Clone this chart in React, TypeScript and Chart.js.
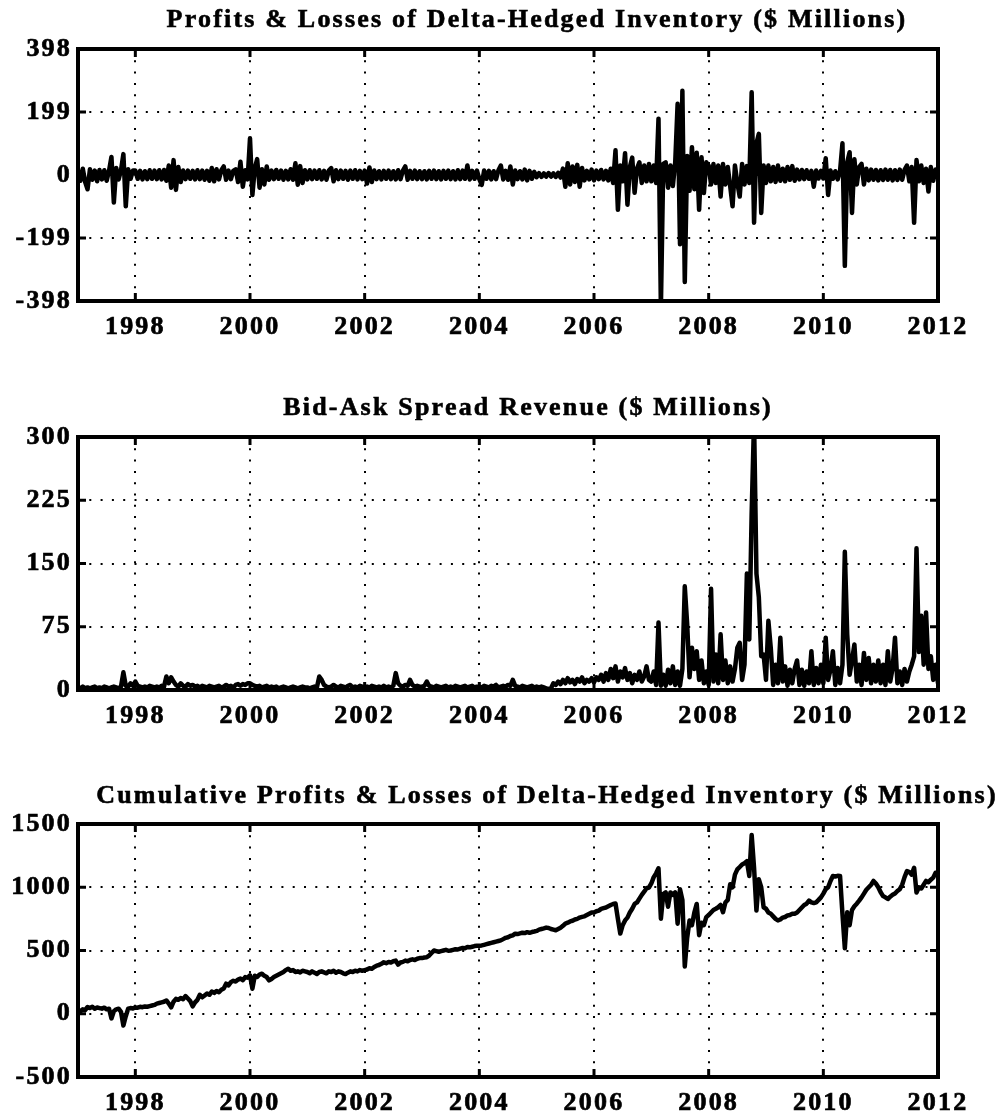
import React, { useEffect, useRef } from 'react';
import { Chart, registerables } from 'chart.js';

Chart.register(...registerables);

// ---------- data ----------
const X_START = 1997;
const X_END = 2012;
const SAMPLES_PER_YEAR = 24; // half-month sampling
const YEAR_TICKS = [1998, 2000, 2002, 2004, 2006, 2008, 2010, 2012];

const PL_TICKS = [-398, -199, 0, 199, 398];
const SPREAD_TICKS = [0, 75, 150, 225, 300];
const CUM_TICKS = [-500, 0, 500, 1000, 1500];

const TITLE_PL = 'Profits & Losses of Delta-Hedged Inventory ($ Millions)';
const TITLE_SPREAD = 'Bid-Ask Spread Revenue ($ Millions)';
const TITLE_CUM = 'Cumulative Profits & Losses of Delta-Hedged Inventory ($ Millions)';

// Profits & losses, one row per year (24 half-month samples)
const PL_VALUES = [
  15, -18, 20, -22, -45, 18, -15, 14, -20, 16, -14, 15, -18, 14, 57, -87, 22, -14, 15, 66, -99, 18, -12, 14, // 1997
  14, -12, 13, -14, 12, -13, 15, -12, 14, -13, 15, -14, 16, -18, 30, -40, 47, -47, 25, -22, 14, -13, 14, -12, // 1998
  13, -14, 15, -13, 14, -15, 13, -18, 22, -20, 18, -14, 15, 27, -15, 14, -13, 13, 18, -22, 42, -37, 15, -14, // 1999
  116, -63, 22, 50, -40, 18, -30, 27, -15, 14, -13, 16, -12, 14, -15, 13, -14, 18, -15, 37, -31, 28, -25, 15, // 2000
  -14, 15, -13, 14, -12, 15, -14, 13, -15, 14, 22, -20, 15, -13, 14, -12, 13, -15, 14, -12, 15, -14, 13, -13, // 2001
  14, -27, 24, -22, 14, -13, 12, -14, 13, -12, 14, -13, 12, -14, 15, -13, 14, 27, -15, 13, -12, 14, -13, 12, // 2002
  -13, 12, -14, 13, -12, 14, -13, 12, -14, 13, -12, 14, -13, 12, -14, 15, -13, 14, -12, 30, -14, 13, -12, 14, // 2003
  -13, -31, 14, -12, 13, -14, 12, -13, 15, 30, -14, 13, -15, 27, -30, 14, -13, 12, -14, 17, -17, 13, -12, 10, // 2004
  -7, 6, -6, 5, -5, 6, -5, 5, -6, 7, -8, 20, -37, 37, -30, 27, -22, 32, -37, 22, -17, 13, -14, 17, // 2005
  -17, 14, -13, 16, -14, 13, -17, 20, -25, 78, -110, 30, -20, 69, -94, 25, 55, -56, 20, 40, -25, 30, -20, 35, // 2006
  -20, 30, -25, 178, -420, 35, 40, -40, 30, -35, 40, 225, -219, 266, -338, 60, -50, 88, -45, 70, -110, 56, -57, 40, // 2007
  30, -30, 35, -25, 30, -68, 35, -30, 25, -35, -99, 30, -25, -68, 35, -30, 28, -25, 261, -151, 100, 130, -120, 30, // 2008
  -25, 30, -20, 25, -22, 30, -18, 20, -20, 25, -15, 28, -18, 17, -14, 16, -13, 15, -12, 13, -37, 14, -11, 13, // 2009
  -11, 53, -63, 14, -12, 12, -14, 13, 100, -287, 40, 72, -120, 50, -30, 25, 35, -30, 20, -17, 17, -15, 16, -17, // 2010
  15, -16, 17, -15, 16, -17, 15, -16, 17, -15, 16, 30, -20, 25, -151, 47, -20, 30, -25, 20, -52, 25, -18, 17, 12, // 2011 + end
];

// Bid-ask spread revenue
const SPREAD_VALUES = [
  3, 2, 4, 2, 3, 2, 3, 4, 2, 3, 2, 4, 3, 2, 3, 4, 3, 2, 4, 21, 5, 4, 8, 5, // 1997
  10, 5, 4, 3, 4, 3, 5, 4, 3, 4, 3, 5, 4, 16, 8, 15, 10, 6, 4, 8, 5, 4, 7, 5, // 1998
  6, 4, 5, 3, 5, 4, 3, 5, 4, 3, 4, 5, 3, 4, 6, 4, 5, 3, 6, 7, 5, 7, 6, 8, // 1999
  8, 6, 5, 4, 5, 3, 4, 5, 3, 4, 3, 4, 2, 3, 4, 3, 2, 3, 4, 3, 2, 3, 4, 3, // 2000
  3, 2, 3, 4, 3, 16, 12, 6, 4, 3, 4, 6, 4, 3, 5, 4, 3, 5, 6, 3, 4, 3, 5, 4, // 2001
  3, 4, 3, 5, 4, 3, 4, 3, 5, 3, 4, 3, 5, 20, 8, 5, 4, 6, 5, 12, 6, 4, 5, 4, // 2002
  4, 5, 10, 5, 4, 3, 5, 4, 3, 4, 5, 3, 4, 3, 5, 4, 3, 4, 5, 3, 4, 5, 3, 4, // 2003
  4, 3, 5, 4, 3, 5, 4, 6, 3, 4, 5, 4, 6, 5, 12, 5, 4, 3, 5, 4, 3, 4, 5, 3, // 2004
  4, 3, 4, 3, 2, 1, 2, 8, 6, 10, 7, 12, 8, 14, 9, 12, 7, 13, 10, 15, 8, 12, 10, 14, // 2005
  9, 15, 12, 18, 10, 20, 12, 25, 14, 28, 10, 22, 15, 26, 12, 20, 8, 18, 12, 22, 10, 16, 28, 12, // 2006
  10, 22, 6, 80, 5, 18, 5, 24, 8, 28, 6, 22, 5, 25, 123, 78, 15, 50, 25, 46, 12, 35, 8, 22, // 2007
  6, 120, 10, 42, 8, 66, 12, 35, 8, 28, 10, 25, 50, 56, 12, 30, 138, 60, 210, 320, 138, 110, 40, 42, // 2008
  12, 82, 50, 6, 30, 8, 62, 10, 28, 5, 24, 8, 25, 35, 6, 24, 5, 22, 8, 46, 6, 26, 8, 30, // 2009
  8, 62, 12, 24, 46, 6, 26, 8, 30, 164, 66, 18, 35, 54, 10, 30, 6, 44, 12, 38, 8, 30, 10, 35, // 2010
  8, 30, 6, 46, 10, 26, 62, 8, 22, 6, 25, 10, 22, 30, 40, 168, 45, 88, 30, 92, 25, 40, 12, 30, 8, // 2011 + end
];

// Cumulative profits & losses
const CUM_VALUES = [
  10, 20, 35, 30, 53, 45, 55, 40, 50, 45, 40, 48, 35, 40, -37, 20, 35, 40, 15, -93, -20, 40, 45, 42, // 1997
  50, 48, 55, 52, 58, 55, 60, 65, 70, 80, 85, 90, 95, 105, 80, 50, 95, 118, 110, 125, 115, 140, 120, 100, // 1998
  58, 90, 110, 150, 130, 145, 160, 150, 175, 165, 180, 170, 190, 200, 238, 225, 250, 260, 255, 270, 278, 265, 290, 285, // 1999
  304, 198, 300, 290, 310, 317, 300, 290, 264, 275, 290, 300, 310, 320, 330, 345, 356, 340, 345, 330, 335, 327, 340, 335, // 2000
  330, 320, 335, 325, 314, 330, 335, 327, 320, 335, 330, 340, 325, 335, 330, 320, 314, 325, 335, 330, 340, 335, 345, 340, // 2001
  345, 350, 360, 355, 370, 380, 385, 395, 407, 400, 410, 405, 415, 420, 388, 405, 410, 420, 415, 425, 430, 425, 435, 440, // 2002
  440, 445, 447, 460, 480, 500, 495, 490, 495, 500, 505, 498, 500, 505, 510, 508, 515, 520, 518, 527, 525, 530, 535, 538, // 2003
  538, 540, 545, 550, 555, 560, 565, 570, 575, 580, 590, 600, 605, 615, 620, 633, 630, 635, 640, 638, 645, 640, 646, 650, // 2004
  655, 665, 670, 675, 681, 678, 670, 665, 660, 670, 680, 695, 713, 720, 730, 735, 745, 750, 760, 766, 770, 780, 790, 800, // 2005
  800, 810, 815, 829, 835, 840, 850, 860, 868, 872, 750, 634, 700, 738, 760, 800, 830, 868, 880, 910, 940, 965, 992, 998, // 2006
  1030, 1080, 1110, 1150, 751, 946, 960, 846, 959, 940, 960, 712, 985, 900, 374, 600, 738, 700, 800, 868, 621, 720, 700, 764, // 2007
  780, 800, 820, 830, 842, 860, 803, 880, 900, 1024, 1000, 1100, 1141, 1160, 1180, 1190, 1206, 1089, 1414, 1154, 816, 1063, 1000, 842, // 2008
  830, 800, 790, 770, 750, 738, 745, 760, 765, 777, 780, 790, 790, 800, 820, 840, 860, 870, 894, 880, 875, 881, 900, 920, // 2009
  950, 985, 1000, 1050, 1089, 1085, 1090, 1089, 790, 517, 803, 700, 820, 850, 870, 894, 920, 950, 980, 1000, 1020, 1050, 1030, 1000, // 2010
  960, 930, 920, 907, 925, 940, 950, 970, 985, 1020, 1080, 1128, 1120, 1100, 1154, 959, 1000, 990, 1020, 1050, 1040, 1060, 1076, 1115, 1110, // 2011 + end
];

// ---------- styling ----------
const FONT_FAMILY = '"Liberation Serif", "Times New Roman", serif';
const LETTER_SPACING = '2.2px';
const PAGE_W = 1005;
const AREA_LEFT = 78;
const AREA_RIGHT = 938;
const X_AXIS_H = 36;

type PanelProps = {
  top: number;
  height: number;
  areaTop: number;
  areaBottom: number;
  title: string;
  titleCenter: number;
  titleBaseline: number;
  values: number[];
  yTicks: number[];
};

const toPoints = (values: number[]) =>
  values.map((v, i) => ({ x: X_START + i / SAMPLES_PER_YEAR, y: v }));

function Panel(props: PanelProps) {
  const ref = useRef<HTMLCanvasElement>(null);

  useEffect(() => {
    const { height, areaTop, areaBottom, title, titleCenter, titleBaseline, values, yTicks } = props;
    const tickFont = { family: FONT_FAMILY, size: 26, weight: 'bold' as const };

    const spacingPlugin = {
      id: 'spacing',
      beforeDraw(chart: any) {
        (chart.ctx as any).letterSpacing = LETTER_SPACING;
      },
    };

    const framePlugin = {
      id: 'frame',
      afterDatasetsDraw(chart: any) {
        const { ctx, chartArea } = chart;
        const { left, right, top, bottom } = chartArea;
        const xs = chart.scales.x;
        const ys = chart.scales.y;
        ctx.save();
        ctx.setLineDash([]);
        ctx.strokeStyle = '#000';
        ctx.lineWidth = 3;
        const tl = 8;
        YEAR_TICKS.forEach((v) => {
          const px = xs.getPixelForValue(v);
          ctx.beginPath();
          ctx.moveTo(px, bottom);
          ctx.lineTo(px, bottom - tl);
          ctx.moveTo(px, top);
          ctx.lineTo(px, top + tl);
          ctx.stroke();
        });
        yTicks.forEach((v) => {
          const py = ys.getPixelForValue(v);
          ctx.beginPath();
          ctx.moveTo(left, py);
          ctx.lineTo(left + tl, py);
          ctx.moveTo(right, py);
          ctx.lineTo(right - tl, py);
          ctx.stroke();
        });
        ctx.lineWidth = 4;
        ctx.strokeRect(left, top, right - left, bottom - top);
        ctx.restore();
      },
      afterDraw(chart: any) {
        const ctx = chart.ctx;
        ctx.save();
        (ctx as any).letterSpacing = LETTER_SPACING;
        ctx.fillStyle = '#000';
        ctx.strokeStyle = '#000';
        ctx.lineWidth = 0.6;
        ctx.font = `bold 26px ${FONT_FAMILY}`;
        ctx.textAlign = 'center';
        ctx.textBaseline = 'alphabetic';
        ctx.fillText(title, titleCenter, titleBaseline);
        ctx.strokeText(title, titleCenter, titleBaseline);
        ctx.restore();
      },
    };

    const chart = new Chart(ref.current as HTMLCanvasElement, {
      type: 'line',
      data: {
        datasets: [
          {
            data: toPoints(values),
            borderColor: '#000',
            borderWidth: 4.5,
            pointRadius: 0,
            tension: 0,
            fill: false,
            clip: 0,
            borderJoinStyle: 'round',
            borderCapStyle: 'round',
          } as any,
        ],
      },
      options: {
        responsive: false,
        animation: false,
        events: [],
        layout: {
          padding: {
            left: 0,
            right: PAGE_W - AREA_RIGHT,
            top: areaTop,
            bottom: height - areaBottom - X_AXIS_H,
          },
        },
        plugins: {
          legend: { display: false },
          tooltip: { enabled: false },
          title: { display: false },
        },
        scales: {
          x: {
            type: 'linear',
            min: X_START,
            max: X_END,
            afterBuildTicks: (s: any) => {
              s.ticks = YEAR_TICKS.map((v) => ({ value: v }));
            },
            afterFit: (s: any) => {
              s.height = X_AXIS_H;
            },
            grid: { color: '#000', lineWidth: 2, drawTicks: false },
            border: { display: false, dash: [2, 9.3] },
            ticks: {
              callback: (v: any) => String(v),
              font: tickFont,
              color: '#000',
              textStrokeColor: '#000',
              textStrokeWidth: 0.7,
              padding: 11,
              maxRotation: 0,
              autoSkip: false,
            },
          },
          y: {
            type: 'linear',
            min: yTicks[0],
            max: yTicks[yTicks.length - 1],
            afterBuildTicks: (s: any) => {
              s.ticks = yTicks.map((v) => ({ value: v }));
            },
            afterFit: (s: any) => {
              s.width = AREA_LEFT;
            },
            grid: { color: '#000', lineWidth: 2, drawTicks: false },
            border: { display: false, dash: [2, 9.3] },
            ticks: {
              callback: (v: any) => String(v),
              font: tickFont,
              color: '#000',
              textStrokeColor: '#000',
              textStrokeWidth: 0.7,
              padding: 6,
              autoSkip: false,
            },
          },
        },
      } as any,
      plugins: [spacingPlugin, framePlugin],
    });
    return () => chart.destroy();
  }, []);

  return (
    <canvas
      ref={ref}
      width={PAGE_W}
      height={props.height}
      style={{ position: 'absolute', left: 0, top: props.top, width: PAGE_W, height: props.height }}
    />
  );
}

export default function App() {
  return (
    <div style={{ position: 'absolute', left: 0, top: 0, width: PAGE_W, height: 1116, background: '#fff' }}>
      <Panel
        top={0}
        height={372}
        areaTop={49}
        areaBottom={301}
        title={TITLE_PL}
        titleCenter={537}
        titleBaseline={27}
        values={PL_VALUES}
        yTicks={PL_TICKS}
      />
      <Panel
        top={372}
        height={388}
        areaTop={65}
        areaBottom={318}
        title={TITLE_SPREAD}
        titleCenter={528}
        titleBaseline={43}
        values={SPREAD_VALUES}
        yTicks={SPREAD_TICKS}
      />
      <Panel
        top={760}
        height={356}
        areaTop={64}
        areaBottom={317}
        title={TITLE_CUM}
        titleCenter={547}
        titleBaseline={43}
        values={CUM_VALUES}
        yTicks={CUM_TICKS}
      />
    </div>
  );
}
